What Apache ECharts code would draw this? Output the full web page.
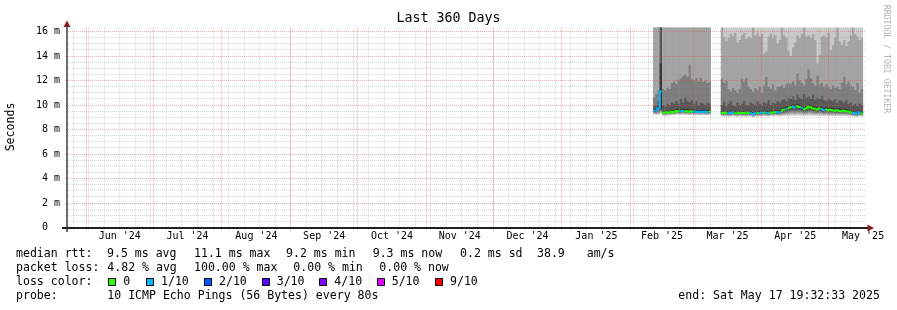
<!DOCTYPE html>
<html><head><meta charset="utf-8">
<script src="https://cdn.jsdelivr.net/npm/echarts@6/dist/echarts.min.js"></script>
<style>html,body{margin:0;padding:0;background:#fff}#c{width:897px;height:310px}</style>
</head><body><div id="c"></div>
<script>
// ================= DATA =================
const endTime = '2025-05-17T19:32:33Z';
const spanDays = 360;
const yMax = 16.33;
const yTicks = [0, 2, 4, 6, 8, 10, 12, 14, 16];
const yTickLabels = ['0  ', '2 m', '4 m', '6 m', '8 m', '10 m', '12 m', '14 m', '16 m'];
const monthStarts = ['2024-06-01','2024-07-01','2024-08-01','2024-09-01','2024-10-01','2024-11-01','2024-12-01','2025-01-01','2025-02-01','2025-03-01','2025-04-01','2025-05-01','2025-06-01'];
const monthLabels = ["Jun '24","Jul '24","Aug '24","Sep '24","Oct '24","Nov '24","Dec '24","Jan '25","Feb '25","Mar '25","Apr '25","May '25"];
const firstWeekLine = '2024-05-26';

// two blocks of daily samples (RTT in ms, sorted pings p1..p10, median, loss count of 10)
const blockStarts = ['2025-02-11T00:00:00Z', '2025-03-13T12:00:00Z'];

const medianA = [9.55,9.55,9.72,11.10,9.38,9.36,9.40,9.37,9.45,9.42,9.52,9.50,9.48,9.52,9.47,9.50,9.46,9.49,9.45,9.46,9.45,9.44,9.46,9.45,9.44,9.46];
const lossA   = [1,1,1,1,0,0,0,0,0,0,0,0,1,1,0,0,0,0,1,1,1,1,1,1,1,0];
const p1A = [9.22,9.20,9.18,9.30,9.12,9.10,9.14,9.12,9.18,9.16,9.22,9.20,9.19,9.22,9.18,9.21,9.17,9.20,9.17,9.18,9.17,9.16,9.18,9.17,9.16,9.18];
const p2A = [9.30,9.28,9.30,9.40,9.20,9.18,9.22,9.20,9.26,9.24,9.30,9.28,9.27,9.30,9.26,9.29,9.25,9.28,9.25,9.26,9.25,9.24,9.26,9.25,9.24,9.26];
const p3A = [9.38,9.36,9.42,9.50,9.26,9.24,9.28,9.26,9.32,9.30,9.38,9.36,9.34,9.38,9.33,9.36,9.32,9.35,9.32,9.33,9.32,9.31,9.33,9.32,9.31,9.33];
const p4A = [9.44,9.44,9.54,9.60,9.31,9.29,9.33,9.30,9.38,9.35,9.44,9.42,9.40,9.44,9.39,9.42,9.38,9.41,9.38,9.39,9.38,9.37,9.39,9.38,9.37,9.39];
const p5A = [9.50,9.50,9.64,9.70,9.35,9.33,9.37,9.34,9.42,9.39,9.49,9.47,9.45,9.49,9.44,9.47,9.43,9.46,9.42,9.43,9.42,9.41,9.43,9.42,9.41,9.43];
const p6A = [9.68,9.70,9.90,13.40,9.52,9.50,9.56,9.52,9.62,9.58,9.68,9.64,9.66,9.70,9.66,9.70,9.62,9.66,9.60,9.62,9.60,9.58,9.62,9.60,9.58,9.62];
const p7A = [9.90,10.00,10.30,17.0,10.00,9.90,10.10,10.00,10.20,10.10,10.30,10.10,10.50,10.20,10.60,10.30,10.20,10.40,10.10,10.30,10.00,10.20,10.10,10.00,10.20,10.10];
const p8A = [10.6,10.9,11.2,17.0,11.3,11.2,11.4,11.3,11.8,11.9,11.7,12.0,12.2,12.4,12.5,12.3,13.3,12.1,12.0,12.2,11.9,12.2,11.9,12.0,11.8,11.9];
const p9A = [17,17,17,17,17,17,17,17,17,17,17,17,17,17,17,17,17,17,17,17,17,17,17,17,17,17];
const p10A = [17,17,17,17,17,17,17,17,17,17,17,17,17,17,17,17,17,17,17,17,17,17,17,17,17,17];

const medianB = [9.36,9.34,9.37,9.32,9.35, 9.38,9.34,9.33,9.37,9.35, 9.34,9.32,9.36,9.34,9.25, 9.33,9.35,9.34,9.37,9.38,
  9.36,9.34,9.39,9.37,9.40, 9.38,9.42,9.55,9.62,9.70, 9.74,9.82,9.87,9.80,9.90, 9.84,9.77,9.64,9.72,9.86,
  9.82,9.74,9.70,9.64,9.72, 9.68,9.60,9.64,9.57,9.62, 9.58,9.54,9.57,9.52,9.50, 9.54,9.49,9.47,9.40,9.35, 9.32,9.28,9.38,9.31];
const lossB = [0,0,0,1,1, 1,0,0,0,0, 0,0,0,1,1, 1,0,1,1,0, 1,1,0,0,0, 1,1,0,0,1, 0,0,1,1,0, 0,1,0,0,0,
  0,0,0,0,0, 1,1,0,0,0, 0,0,0,0,0, 0,0,0,0,1, 1,1,1,0];
const p1B = [9.08,9.06,9.09,9.04,9.07,9.10,9.06,9.05,9.09,9.07,9.06,9.04,9.08,9.06,9.00,9.05,9.07,9.06,9.09,9.10,
  9.08,9.06,9.11,9.09,9.12,9.10,9.10,9.11,9.12,9.12,9.13,9.14,9.14,9.13,9.15,9.14,9.13,9.12,9.13,9.14,
  9.14,9.13,9.12,9.12,9.13,9.12,9.11,9.12,9.11,9.11,9.11,9.10,9.11,9.10,9.10,9.11,9.10,9.09,9.08,9.07,9.05,9.04,9.08,9.06];
const p2B = [9.16,9.14,9.17,9.12,9.15,9.18,9.14,9.13,9.17,9.15,9.14,9.12,9.16,9.14,9.08,9.13,9.15,9.14,9.17,9.18,
  9.16,9.14,9.19,9.17,9.20,9.18,9.19,9.21,9.23,9.24,9.26,9.28,9.29,9.27,9.30,9.28,9.26,9.24,9.26,9.29,
  9.28,9.26,9.25,9.24,9.26,9.25,9.23,9.24,9.22,9.23,9.22,9.21,9.22,9.20,9.20,9.22,9.20,9.19,9.17,9.15,9.12,9.11,9.16,9.13];
const p3B = [9.22,9.20,9.23,9.18,9.21,9.24,9.20,9.19,9.23,9.21,9.20,9.18,9.22,9.20,9.14,9.19,9.21,9.20,9.23,9.24,
  9.22,9.20,9.25,9.23,9.26,9.24,9.25,9.29,9.32,9.34,9.37,9.40,9.42,9.39,9.44,9.41,9.38,9.34,9.37,9.42,
  9.40,9.37,9.35,9.33,9.36,9.34,9.31,9.33,9.30,9.32,9.31,9.29,9.31,9.28,9.27,9.30,9.27,9.26,9.23,9.20,9.17,9.16,9.22,9.18];
const p4B = [9.27,9.25,9.28,9.23,9.26,9.29,9.25,9.24,9.28,9.26,9.25,9.23,9.27,9.25,9.19,9.24,9.26,9.25,9.28,9.29,
  9.27,9.25,9.30,9.28,9.31,9.29,9.31,9.38,9.42,9.46,9.50,9.55,9.58,9.53,9.60,9.57,9.52,9.45,9.50,9.58,
  9.55,9.50,9.47,9.44,9.49,9.46,9.42,9.45,9.40,9.43,9.41,9.39,9.41,9.37,9.36,9.39,9.36,9.34,9.30,9.26,9.23,9.21,9.28,9.24];
const p5B = [9.32,9.30,9.33,9.28,9.31,9.34,9.30,9.29,9.33,9.31,9.30,9.28,9.32,9.30,9.22,9.29,9.31,9.30,9.33,9.34,
  9.32,9.30,9.35,9.33,9.36,9.34,9.37,9.48,9.54,9.60,9.64,9.70,9.74,9.68,9.76,9.72,9.66,9.56,9.62,9.74,
  9.70,9.64,9.60,9.56,9.62,9.58,9.52,9.56,9.50,9.54,9.51,9.48,9.50,9.46,9.45,9.48,9.44,9.42,9.36,9.31,9.28,9.25,9.33,9.28];
const p6B = [9.50,9.48,9.52,9.46,9.50,9.52,9.48,9.47,9.52,9.50,9.49,9.46,9.50,9.49,9.40,9.48,9.50,9.48,9.52,9.53,
  9.51,9.49,9.55,9.52,9.56,9.54,9.60,9.74,9.80,9.88,9.92,10.00,10.05,9.98,10.10,10.02,9.95,9.84,9.92,10.05,
  10.00,9.92,9.88,9.82,9.90,9.86,9.78,9.82,9.75,9.80,9.76,9.72,9.74,9.70,9.68,9.72,9.66,9.64,9.56,9.52,9.48,9.46,9.54,9.48];
const p7B = [10.00,10.20,9.90,10.10,10.30,10.00,9.90,10.20,10.00,10.10,10.30,10.00,9.95,10.20,10.10,10.00,10.30,10.10,10.00,10.20,
  10.10,10.40,10.00,10.20,10.10,10.30,10.20,10.40,10.50,10.30,10.60,10.50,10.70,10.40,10.80,10.60,10.50,10.90,10.60,10.70,
  10.50,10.80,10.40,10.60,10.50,10.70,10.40,10.30,10.50,10.40,10.30,10.50,10.20,10.40,10.30,10.20,10.40,10.10,10.20,10.00,10.10,9.90,10.10,10.00];
const p8B = [12.1,11.8,12.0,11.3,11.1,11.4,11.2,11.0,11.3,12.1,11.9,12.2,11.5,11.3,11.1,11.4,11.2,11.5,11.0,11.6,
  12.3,11.5,11.3,11.7,11.2,11.5,11.5,11.6,11.4,11.7,11.8,11.7,11.9,11.6,12.6,12.0,11.8,11.6,12.1,12.9,
  12.2,11.8,11.6,12.4,11.7,11.8,11.5,11.7,11.5,11.3,11.6,11.4,11.5,11.3,11.8,12.3,11.7,11.9,11.6,11.5,11.2,11.8,11.0,11.3];
const p9B = [17,15.6,15.2,15.5,15.8,15.6,15.9,15.1,15.3,15.7,15.9,15.4,15.6,15.5,17,15.7,15.9,15.6,15.8,14.2,
  14.4,15.6,15.8,15.5,15.7,15.0,15.3,17,15.7,15.5,14.4,14.0,14.7,15.1,15.7,15.5,15.8,17,15.6,15.7,
  15.5,15.8,15.3,13.4,14.1,15.6,15.7,15.5,15.9,14.5,14.9,15.5,17,15.2,14.9,15.3,14.8,15.2,15.7,17,15.8,15.6,15.3,15.5];
const p10B = [17,17,17,17,17,17,17,17,17,17,17,17,17,17,17,17,17,17,17,17,17,17,17,17,17,17,17,17,17,17,17,17,
  17,17,17,17,17,17,17,17,17,17,17,17,17,17,17,17,17,17,17,17,17,17,17,17,17,17,17,17,17,17,17,17];

// legend texts
const rttStats = ['9.5 ms avg', '11.1 ms max', '9.2 ms min', '9.3 ms now', '0.2 ms sd', '38.9', 'am/s'];
const lossStats = ['4.82 % avg', '100.00 % max', '0.00 % min', '0.00 % now'];
const lossLegend = ['0', '1/10', '2/10', '3/10', '4/10', '5/10', '9/10'];
const probeText = '10 ICMP Echo Pings (56 Bytes) every 80s';
const endText = 'end: Sat May 17 19:32:33 2025';

// ================= STYLE =================
const lossColors = ['#26ff00', '#00b8ff', '#0059ff', '#5e00ff', '#7e00ff', '#dd00ff', '#ff0000'];
const smokeColors = ['#cacaca', '#a4a4a4', '#7e7e7e', '#585858', '#323232'];
const MONO = '"DejaVu Sans Mono", monospace';
const minorColor = 'rgba(150,150,150,0.38)';
const majorColor = 'rgba(222,79,79,0.48)';
const DAY = 86400000;

// ================= BUILD =================
const tEnd = Date.parse(endTime);
const tStart = tEnd - spanDays * DAY;
const blocks = [
  {start: blockStarts[0], med: medianA, loss: lossA, p: [p1A,p2A,p3A,p4A,p5A,p6A,p7A,p8A,p9A,p10A]},
  {start: blockStarts[1], med: medianB, loss: lossB, p: [p1B,p2B,p3B,p4B,p5B,p6B,p7B,p8B,p9B,p10B]}
];

const series = [];

// smoke: one polygon per (block, layer); layer L spans p[L] .. p[9-L]
const smokeData = [];
for (let L = 0; L < 5; L++) {
  blocks.forEach((b, bi) => smokeData.push([Date.parse(b.start), 0, bi, L]));
}
series.push({
  type: 'custom', silent: true, z: 2, data: smokeData, encode: {x: 0, y: 1},
  renderItem: function (params, api) {
    const cs = params.coordSys;
    const bi = api.value(2), L = api.value(3);
    const b = blocks[bi];
    const s0 = Date.parse(b.start);
    const lo = b.p[L], hi = b.p[9 - L];
    const top = [], bot = [];
    const clampY = (pt) => [pt[0], Math.max(cs.y, Math.min(cs.y + cs.height, pt[1]))];
    for (let i = 0; i < b.med.length; i++) {
      const t0 = s0 + i * DAY, t1 = s0 + (i + 1) * DAY;
      top.push(clampY(api.coord([t0, hi[i]])), clampY(api.coord([t1, hi[i]])));
      bot.push(clampY(api.coord([t0, lo[i]])), clampY(api.coord([t1, lo[i]])));
    }
    const pts = top.concat(bot.reverse());
    return {type: 'polygon', shape: {points: pts}, silent: true, style: {fill: smokeColors[L], stroke: null}};
  }
});

// grid lines
const gridData = [];
for (let v = 0.5; v < yMax; v += 0.5) {
  if (Math.abs(v % 2) < 1e-9) continue;
  gridData.push([tStart, v, 0]);
}
yTicks.forEach(v => { if (v > 0) gridData.push([tStart, v, 1]); });
for (let t = Date.parse(firstWeekLine); t < tEnd; t += 7 * DAY) gridData.push([t, 0, 2]);
for (let i = 0; i < monthStarts.length - 1; i++) gridData.push([Date.parse(monthStarts[i]), 0, 3]);

series.push({
  type: 'custom', silent: true, z: 3, data: gridData, encode: {x: 0, y: 1},
  renderItem: function (params, api) {
    const cs = params.coordSys;
    const kind = api.value(2);
    const color = (kind === 1 || kind === 3) ? majorColor : minorColor;
    let shape;
    if (kind >= 2) {
      const x = Math.floor(api.coord([api.value(0), 0])[0]) + 0.5;
      shape = {x1: x, y1: cs.y, x2: x, y2: cs.y + cs.height + 3};
    } else {
      const y = Math.floor(api.coord([api.value(0), api.value(1)])[1]) + 0.5;
      shape = {x1: cs.x, y1: y, x2: cs.x + cs.width, y2: y};
    }
    return {type: 'line', shape: shape, silent: true, style: {stroke: color, lineWidth: 1, lineDash: [1, 1]}};
  }
});

// median line coloured by loss
const medData = [];
blocks.forEach(b => {
  const s0 = Date.parse(b.start);
  b.med.forEach((m, i) => {
    medData.push([s0 + i * DAY, m, s0 + (i + 1) * DAY, i > 0 ? b.med[i - 1] : -1, b.loss[i], i > 0 ? b.loss[i - 1] : -1]);
  });
});
series.push({
  type: 'custom', silent: true, z: 4, data: medData, encode: {x: 0, y: 1},
  renderItem: function (params, api) {
    const t0 = api.value(0), m = api.value(1), t1 = api.value(2), pm = api.value(3), l = api.value(4), pl = api.value(5);
    const pts = [];
    if (pm >= 0 && pl === l) pts.push(api.coord([t0, pm]));
    pts.push(api.coord([t0, m]), api.coord([t1, m]));
    const c = lossColors[l > 5 ? 6 : l];
    return {type: 'polyline', shape: {points: pts}, silent: true, style: {stroke: c, lineWidth: 2, fill: null}};
  }
});

// month label positions: middle of each month
const monthMids = [];
for (let i = 0; i < monthLabels.length; i++) {
  monthMids.push((Date.parse(monthStarts[i]) + Date.parse(monthStarts[i + 1])) / 2);
}
function monthLabelFor(v) {
  let best = 0, bd = Infinity;
  monthMids.forEach((m, i) => { const d = Math.abs(m - v); if (d < bd) { bd = d; best = i; } });
  return monthLabels[best];
}
function yLabelFor(v) {
  const i = yTicks.indexOf(Math.round(v));
  return i >= 0 ? yTickLabels[i] : '';
}

// graphic: title, axis lines, arrows, legend
function txt(x, y, s, size, align) {
  return {type: 'text', x: x, y: y, silent: true, z: 100,
    style: {text: s, fill: '#000', font: size + 'px ' + MONO, align: align || 'left', verticalAlign: 'middle'}};
}
const LF = 11.56;
const graphics = [];
graphics.push(txt(448.5, 19, 'Last 360 Days', 13.3, 'center'));
graphics.push({type: 'text', x: 11, y: 127, rotation: Math.PI / 2, silent: true, z: 100,
  style: {text: 'Seconds', fill: '#000', font: LF + 'px ' + MONO, align: 'center', verticalAlign: 'middle'}});
graphics.push({type: 'text', x: 886.5, y: 59, rotation: -Math.PI / 2, silent: true, z: 100,
  style: {text: 'RRDTOOL / TOBI OETIKER', fill: '#b4b4b4', font: '8.2px ' + MONO, align: 'center', verticalAlign: 'middle'}});
// axes
graphics.push({type: 'line', z: 100, silent: true, shape: {x1: 62, y1: 228, x2: 869, y2: 228}, style: {stroke: '#1f1f1f', lineWidth: 2}});
graphics.push({type: 'line', z: 100, silent: true, shape: {x1: 67, y1: 232, x2: 67, y2: 25}, style: {stroke: '#1f1f1f', lineWidth: 1.3}});
graphics.push({type: 'polygon', z: 101, silent: true, shape: {points: [[67, 20.5], [63.5, 27], [70.5, 27]]}, style: {fill: '#801f1f'}});
graphics.push({type: 'polygon', z: 101, silent: true, shape: {points: [[874, 228], [867.5, 224.5], [867.5, 231.5]]}, style: {fill: '#801f1f'}});

// legend
const rowY = [254.3, 268.3, 282.3, 296.3];
graphics.push(txt(16, rowY[0], 'median rtt:', LF));
const rttX = [107, 194, 286, 372.7, 460, 537, 586.7];
rttStats.forEach((s, i) => graphics.push(txt(rttX[i], rowY[0], s, LF)));
graphics.push(txt(16, rowY[1], 'packet loss:', LF));
const lossX = [107.3, 194, 293.3, 379.3];
lossStats.forEach((s, i) => graphics.push(txt(lossX[i], rowY[1], s, LF)));
graphics.push(txt(16, rowY[2], 'loss color:', LF));
const boxX = [108.3, 146, 204, 261.7, 319.3, 376.7, 435];
lossLegend.forEach((s, i) => {
  graphics.push({type: 'rect', z: 100, silent: true, shape: {x: Math.round(boxX[i]) + 0.5, y: 278.5, width: 7, height: 7},
    style: {fill: lossColors[i], stroke: '#000', lineWidth: 1}});
  graphics.push(txt(boxX[i] + 15, rowY[2], s, LF));
});
graphics.push(txt(16, rowY[3], 'probe:', LF));
graphics.push(txt(107.3, rowY[3], probeText, LF));
graphics.push(txt(678.3, rowY[3], endText, LF));

const chart = echarts.init(document.getElementById('c'), null, {renderer: 'canvas'});
chart.setOption({
  animation: false,
  backgroundColor: '#ffffff',
  grid: {left: 66, top: 27.5, width: 800, height: 200, containLabel: false, outerBoundsMode: 'none'},
  xAxis: {
    type: 'value', min: tStart, max: tEnd,
    axisLine: {show: false}, axisTick: {show: false}, splitLine: {show: false},
    axisLabel: {customValues: monthMids, formatter: monthLabelFor, color: '#000', fontFamily: MONO, fontSize: 10, margin: 4, hideOverlap: false}
  },
  yAxis: {
    type: 'value', min: 0, max: yMax,
    axisLine: {show: false}, axisTick: {show: false}, splitLine: {show: false},
    axisLabel: {customValues: yTicks, formatter: yLabelFor, color: '#000', fontFamily: MONO, fontSize: 10, margin: 6}
  },
  graphic: graphics,
  series: series
});
</script>
</body></html>
